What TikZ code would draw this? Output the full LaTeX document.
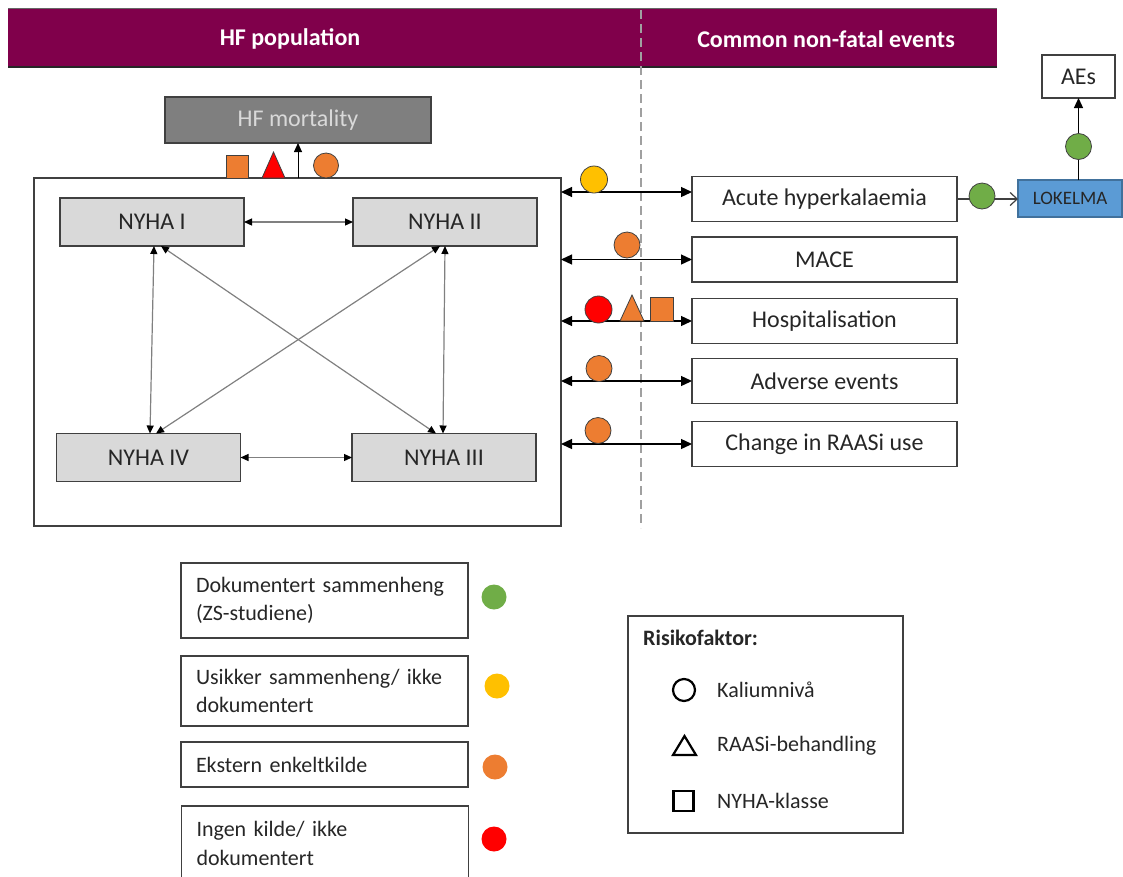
\documentclass[tikz,border=0pt]{standalone}
\usepackage{fontspec}
\setmainfont{Carlito}
\usetikzlibrary{arrows.meta}
\definecolor{hfpurple}{RGB}{128,0,75}
\definecolor{kaorange}{RGB}{237,125,49}
\definecolor{kayellow}{RGB}{255,192,0}
\definecolor{kagreen}{RGB}{112,173,71}
\definecolor{kablue}{RGB}{91,155,213}
\definecolor{kabluedark}{RGB}{65,113,156}
\definecolor{boxgray}{RGB}{217,217,217}
\definecolor{mortgray}{RGB}{127,127,127}
\definecolor{linegray}{RGB}{64,64,64}
\definecolor{textgray}{RGB}{38,38,38}
\definecolor{dashgray}{RGB}{160,160,160}
\tikzset{
  box/.style={draw=linegray,line width=1.6pt,inner sep=0pt,outer sep=0pt,text=textgray,font=\fontsize{24}{29}\selectfont},
  nyha/.style={box,fill=boxgray,minimum width=184pt,minimum height=48pt},
  event/.style={box,minimum width=265pt,minimum height=45pt},
  legbox/.style={box,line width=1.4pt,text width=257pt,inner xsep=15pt,align=left,font=\fontsize{22}{28.5}\selectfont},
  risktext/.style={anchor=west,inner sep=0pt,text=textgray,font=\fontsize{22}{26}\selectfont},
  dot/.style={circle,draw=linegray,line width=0.8pt,minimum size=26pt,inner sep=0pt,fill=#1},
  legdot/.style={circle,minimum size=25pt,inner sep=0pt,fill=#1},
  evarr/.style={{Triangle[length=11pt,width=10pt]}-{Triangle[length=11pt,width=10pt]},line width=1.3pt,black},
  nyarr/.style={{Triangle[length=8pt,width=7pt,color=black]}-{Triangle[length=8pt,width=7pt,color=black]},line width=1.2pt,draw=gray}
}
\begin{document}
\begin{tikzpicture}[x=1pt,y=-1pt]
\path[use as bounding box] (0,0) rectangle (1123,876);
\clip (0,0) rectangle (1123,876);
% banner
\fill[hfpurple] (8,8) rectangle (997,68);
\draw[line width=1pt,black!60] (8,8.5) -- (997,8.5);
\draw[line width=2.5pt,black!85] (8,67) -- (997,67);
\node[text=white,font=\fontsize{24}{29}\selectfont\bfseries] (hfpop) at (290,39) {HF population};
\node[text=white,font=\fontsize{24}{29}\selectfont\bfseries] (nonfatal) at (826,39) {Common non-fatal events};
\draw[dashgray,line width=1.8pt,dash pattern=on 9pt off 5pt] (641,10) -- (641,528);
% HF population
\node[box,fill=mortgray,text=boxgray,minimum width=266pt,minimum height=46pt] (mort) at (298,120) {HF mortality};
\node[box,line width=2pt,minimum width=527pt,minimum height=348pt] (pop) at (297.5,352) {};
\draw[-{Triangle[length=9pt,width=8pt]},line width=0.9pt] (pop.north -| mort.south) -- (mort.south);
\node[draw=linegray,line width=0.8pt,fill=kaorange,minimum width=22pt,minimum height=23pt,inner sep=0pt] (mortsq) at (237,166.5) {};
\draw[draw=linegray,line width=0.8pt,fill=red] (262,178) -- (273.5,152) -- (285,178) -- cycle;
\node[dot=kaorange,minimum size=25pt] (mortci) at (326,165.5) {};
\node[nyha] (n1) at (152,222) {NYHA I};
\node[nyha] (n2) at (445,222) {NYHA II};
\node[nyha] (n4) at (148.5,457.5) {NYHA IV};
\node[nyha] (n3) at (444,457.5) {NYHA III};
\draw[nyarr] (n1) -- (n2);
\draw[nyarr] (n4) -- (n3);
\draw[nyarr] ([xshift=2pt]n1.south) -- ([xshift=1.5pt]n4.north);
\draw[nyarr] ([xshift=0pt]n2.south) -- ([xshift=-1pt]n3.north);
\draw[nyarr] ([xshift=9pt]n1.south) -- ([xshift=-8pt]n3.north);
\draw[nyarr] ([xshift=-5pt]n2.south) -- ([xshift=7.5pt]n4.north);
% events
\node[event] (ah) at (824.5,199) {Acute hyperkalaemia};
\node[event] (mace) at (824.5,259.5) {MACE};
\node[event] (hosp) at (824.5,321) {Hospitalisation};
\node[event] (ae) at (824.5,381) {Adverse events};
\node[event] (raasi) at (824.5,444) {Change in RAASi use};
\draw[evarr] ([yshift=7pt]pop.east |- ah.west) -- ([yshift=7pt]ah.west);
\foreach \ev in {mace,hosp,ae,raasi}
  \draw[evarr] (pop.east |- \ev.west) -- (\ev.west);
\node[dot=kayellow,minimum size=27pt] (ahci) at (594,179.5) {};
\node[dot=kaorange] (maceci) at (627,245) {};
\node[dot=red,minimum size=27pt] (hospci) at (598.5,309.5) {};
\draw[draw=linegray,line width=0.8pt,fill=kaorange] (620,321) -- (632,295) -- (644,321) -- cycle;
\node[draw=linegray,line width=0.8pt,fill=kaorange,minimum width=23pt,minimum height=24pt,inner sep=0pt] (hospsq) at (661.5,309) {};
\node[dot=kaorange] (aeci) at (599,368.5) {};
\node[dot=kaorange] (raasici) at (598,430.5) {};
% LOKELMA
\node[box,line width=1.2pt,draw=kabluedark,fill=kablue,minimum width=104pt,minimum height=37pt,font=\fontsize{19}{23}\selectfont] (lok) at (1070,198.5) {LOKELMA};
\node[box,line width=1.4pt,minimum width=73pt,minimum height=43pt] (aes) at (1078.5,76.5) {AEs};
\draw[-{Straight Barb[length=7pt,width=13pt]},line width=1.2pt,linegray] (ah.east) -- (ah.east -| lok.west);
\draw[-{Triangle[length=10pt,width=9pt]},line width=1.2pt,black] (lok.north -| aes.south) -- (aes.south);
\node[dot=kagreen] (lokci) at (982,196) {};
\node[dot=kagreen] (aesci) at (1078.5,146.5) {};
% legend
\node[legbox,minimum height=75pt] (leg1) at (324.5,600.5) {Dokumentert sammenheng\\(ZS-studiene)};
\node[legbox,minimum height=70pt] (leg2) at (324.5,691) {Usikker sammenheng/ ikke\\dokumentert};
\node[legbox,minimum height=45pt] (leg3) at (324.5,764.5) {Ekstern enkeltkilde};
\node[legbox,minimum height=75pt] (leg4) at (325,843.5) {Ingen kilde/ ikke\\dokumentert};
\node[legdot=kagreen] (legd1) at (494,597) {};
\node[legdot=kayellow] (legd2) at (497,686) {};
\node[legdot=kaorange] (legd3) at (495,767) {};
\node[legdot=red] (legd4) at (494,839) {};
% Risikofaktor
\node[box,line width=1.4pt,minimum width=275pt,minimum height=217pt] (risk) at (765.5,724.5) {};
\node[risktext,font=\fontsize{22}{26}\selectfont\bfseries] (risktitle) at (643,638) {Risikofaktor:};
\node[circle,draw=black,line width=2.2pt,minimum size=22pt,inner sep=0pt] (riskci) at (684,690) {};
\draw[black,line width=2.2pt,line join=miter] (673,755) -- (684.5,736) -- (696,755) -- cycle;
\node[draw=black,line width=2.2pt,minimum width=20pt,minimum height=20pt,inner sep=0pt] (risksq) at (683.5,801) {};
\node[risktext] (kalium) at (717,690) {Kaliumnivå};
\node[risktext] (raasibeh) at (717,746) {RAASi-behandling};
\node[risktext] (nyhakl) at (717,801) {NYHA-klasse};
\end{tikzpicture}
\end{document}
